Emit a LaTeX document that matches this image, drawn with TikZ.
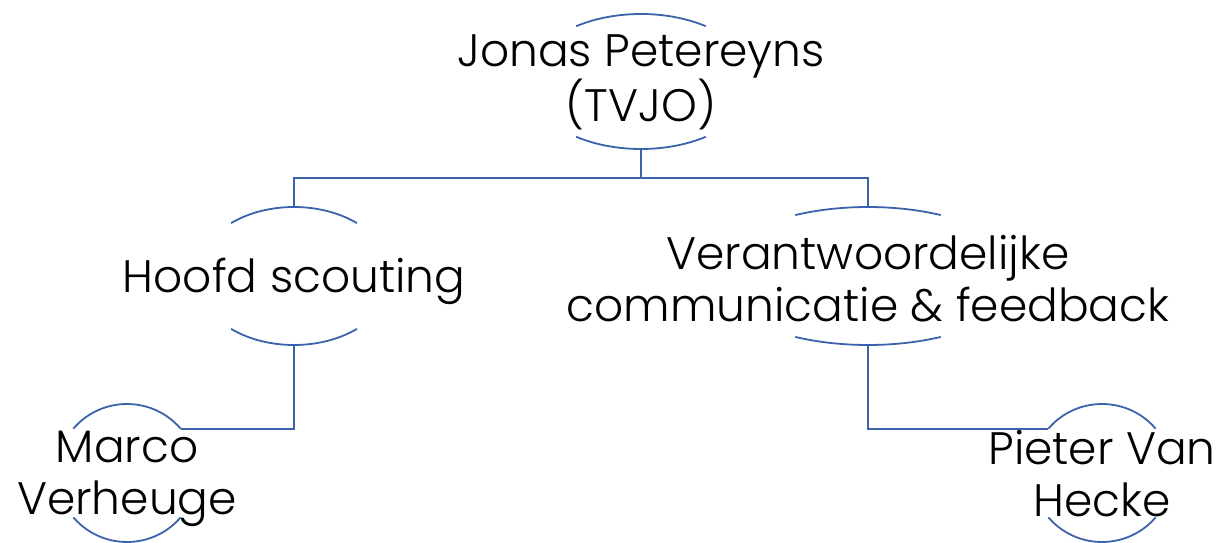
\documentclass[tikz,border=0pt]{standalone}
\usepackage{fontspec}
\setmainfont{Poppins}[UprightFont=* Light]
\definecolor{orgblue}{RGB}{59,98,170}
\begin{document}
\begin{tikzpicture}[x=1pt, y=1pt]
	\tikzset{
		person/.style={font=\fontsize{45.5}{52}\selectfont, align=center, inner sep=0pt},
		link/.style={draw=orgblue, line width=1.8pt},
	}
	\useasboundingbox (0,0) rectangle (1222,542);

	% centres of the rounded outlines
	\coordinate (jonas) at (641,460.5);
	\coordinate (hoofd) at (294,266);
	\coordinate (verant) at (868,266);
	\coordinate (marco) at (127,69);
	\coordinate (pieter) at (1102,69);

	\node[person](jonas-text) at ([yshift=-1pt]jonas){Jonas Petereyns\\(TVJO)};
	\node[person](hoofd-text) at ([yshift=-5pt]hoofd){Hoofd scouting};
	\node[person](verant-text) at ([yshift=-3pt]verant){Verantwoordelijke\\communicatie \& feedback};
	\node[person](marco-text) at ([yshift=-6pt]marco){Marco\\Verheuge};
	\node[person](pieter-text) at ([yshift=-1pt]pieter){Pieter Van\\Hecke};

	% top and bottom arcs of each name
	\draw[link] ([shift={(55:113pt and 67.5pt)}]jonas) arc[start angle=55, end angle=125, x radius=113pt, y radius=67.5pt];
	\draw[link] ([shift={(235:113pt and 67.5pt)}]jonas) arc[start angle=235, end angle=305, x radius=113pt, y radius=67.5pt];
	\draw[link] ([shift={(50:98pt and 69pt)}]hoofd) arc[start angle=50, end angle=130, x radius=98pt, y radius=69pt];
	\draw[link] ([shift={(230:98pt and 69pt)}]hoofd) arc[start angle=230, end angle=310, x radius=98pt, y radius=69pt];
	\draw[link] ([shift={(62:155pt and 69pt)}]verant) arc[start angle=62, end angle=118, x radius=155pt, y radius=69pt];
	\draw[link] ([shift={(242:155pt and 69pt)}]verant) arc[start angle=242, end angle=298, x radius=155pt, y radius=69pt];
	\draw[link] ([shift={(40:70pt and 69pt)}]marco) arc[start angle=40, end angle=140, x radius=70pt, y radius=69pt];
	\draw[link] ([shift={(220:70pt and 69pt)}]marco) arc[start angle=220, end angle=320, x radius=70pt, y radius=69pt];
	\draw[link] ([shift={(40:70pt and 69pt)}]pieter) arc[start angle=40, end angle=140, x radius=70pt, y radius=69pt];
	\draw[link] ([shift={(220:70pt and 69pt)}]pieter) arc[start angle=220, end angle=320, x radius=70pt, y radius=69pt];

	% connectors
	\draw[link] ([yshift=-67.5pt]jonas) -- ++(0,-29) -| ([yshift=69pt]hoofd);
	\draw[link] ([yshift=-67.5pt]jonas) -- ++(0,-29) -| ([yshift=69pt]verant);
	\draw[link] ([yshift=-69pt]hoofd) |- ([shift={(40:70pt and 69pt)}]marco);
	\draw[link] ([yshift=-69pt]verant) |- ([shift={(140:70pt and 69pt)}]pieter);
\end{tikzpicture}
\end{document}
